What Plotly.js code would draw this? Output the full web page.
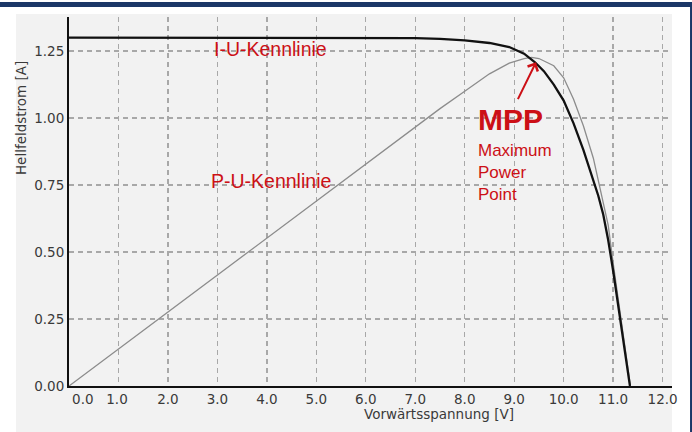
<!DOCTYPE html>
<html>
<head>
<meta charset="utf-8">
<script src="https://cdn.plot.ly/plotly-3.0.1.min.js"></script>
<style>
  html, body { margin: 0; padding: 0; background: #ffffff; }
  #chart { width: 692px; height: 432px; }
</style>
</head>
<body>
<div id="chart"></div>
<script>
// I-U characteristic (Kennlinie) – voltage [V] and current [A]
const iuVoltage = [0, 1, 2, 3, 4, 5, 6, 7, 7.5, 8, 8.5, 8.9, 9.2, 9.42, 9.6, 9.8, 10.0, 10.2, 10.4, 10.6, 10.7, 10.8, 10.9, 11.0, 11.1, 11.2, 11.3, 11.34];
const iuCurrent = [1.30, 1.30, 1.30, 1.30, 1.30, 1.30, 1.30, 1.298, 1.295, 1.29, 1.28, 1.265, 1.24, 1.208, 1.175, 1.125, 1.065, 0.98, 0.88, 0.77, 0.71, 0.64, 0.545, 0.43, 0.305, 0.18, 0.055, 0.0];

// P-U characteristic (scaled power, plotted on the same axis)
const puVoltage = [0, 1, 2, 3, 4, 5, 6, 7, 7.5, 8, 8.5, 8.9, 9.2, 9.35, 9.5, 9.8, 10.0, 10.2, 10.4, 10.6, 10.8, 10.9, 11.0, 11.1, 11.2, 11.3, 11.35];
const puPower   = [0, 0.138, 0.276, 0.414, 0.552, 0.69, 0.828, 0.966, 1.035, 1.10, 1.165, 1.205, 1.222, 1.226, 1.222, 1.195, 1.15, 1.07, 0.97, 0.85, 0.69, 0.60, 0.46, 0.33, 0.19, 0.06, 0.0];

// Maximum power point
const mppVoltage = 9.44;
const mppCurrent = 1.208;

// Tick labels
const xTickValues = [0, 1, 2, 3, 4, 5, 6, 7, 8, 9, 10, 11, 12];
const xTickLabels = ["0.0", "1.0", "2.0", "3.0", "4.0", "5.0", "6.0", "7.0", "8.0", "9.0", "10.0", "11.0", "12.0"];
const xTickLabelPos = [0.28, 0.97, 2, 3, 4, 5, 6, 7, 8, 9, 10, 11, 12];
const yTickValues = [0, 0.25, 0.5, 0.75, 1.0, 1.25];
const yTickLabels = ["0.00", "0.25", "0.50", "0.75", "1.00", "1.25"];

const red = '#cc1016';
const navy = '#1b3767';
const tickFont = { family: 'DejaVu Sans, Verdana, sans-serif', size: 13.5, color: '#3a3a3a' };

const traces = [
  {
    x: puVoltage, y: puPower, type: 'scatter', mode: 'lines', xaxis: 'x', yaxis: 'y',
    line: { color: '#8c8c8c', width: 1.3 },
    hoverinfo: 'skip', showlegend: false
  },
  {
    x: iuVoltage, y: iuCurrent, type: 'scatter', mode: 'lines', xaxis: 'x2', yaxis: 'y',
    line: { color: '#111111', width: 2.3 },
    hoverinfo: 'skip', showlegend: false
  }
];

const layout = {
  width: 692, height: 432,
  margin: { l: 69, r: 20, t: 17, b: 46, pad: 0 },
  paper_bgcolor: '#ffffff',
  plot_bgcolor: 'rgba(0,0,0,0)',
  showlegend: false,
  xaxis: {
    range: [0, 12.19], fixedrange: true,
    tickvals: xTickValues, showticklabels: false, ticks: '',
    showgrid: true, gridcolor: '#a8a8a8', gridwidth: 1.3, griddash: '5px,4px',
    zeroline: false, showline: true, linecolor: '#111111', linewidth: 2
  },
  xaxis2: {
    range: [0, 12.19], fixedrange: true, overlaying: 'x', anchor: 'y', side: 'bottom',
    tickvals: xTickLabelPos, ticktext: xTickLabels, ticks: '', ticklabelstandoff: 3,
    tickfont: tickFont, showgrid: false, zeroline: false, showline: false
  },
  yaxis: {
    range: [0, 1.377], fixedrange: true,
    tickvals: yTickValues, ticktext: yTickLabels, ticks: '',
    tickfont: tickFont,
    showgrid: true, gridcolor: '#a8a8a8', gridwidth: 1.3, griddash: '5px,4px',
    zeroline: false, showline: true, linecolor: '#111111', linewidth: 2
  },
  shapes: [
    // scanned grey area
    { type: 'rect', xref: 'paper', yref: 'paper', x0: -0.0879, x1: 1.0, y0: -0.13, y1: 1.0081,
      fillcolor: '#f2f2f2', line: { width: 0 }, layer: 'below' },
    // navy top band
    { type: 'rect', xref: 'paper', yref: 'paper', x0: -0.12, x1: 1.04, y0: 1.0271, y1: 1.0407,
      fillcolor: navy, line: { width: 0 }, layer: 'above' },
    // navy right border line
    { type: 'rect', xref: 'paper', yref: 'paper', x0: 1.0299, x1: 1.04, y0: -0.13, y1: 1.0407,
      fillcolor: navy, line: { width: 0 }, layer: 'above' }
  ],
  annotations: [
    { x: 4.07, y: 1.258, xref: 'x', yref: 'y', text: 'I-U-Kennlinie', showarrow: false,
      font: { family: 'Liberation Sans, Arial, sans-serif', size: 19.5, color: red } },
    { x: 4.09, y: 0.765, xref: 'x', yref: 'y', text: 'P-U-Kennlinie', showarrow: false,
      font: { family: 'Liberation Sans, Arial, sans-serif', size: 19.5, color: red } },
    { x: 8.23, y: 0.995, xref: 'x', yref: 'y', xanchor: 'left', text: '<b>MPP</b>', showarrow: false,
      font: { family: 'Liberation Sans, Arial, sans-serif', size: 30, color: red } },
    { x: 8.23, y: 0.797, xref: 'x', yref: 'y', xanchor: 'left', yanchor: 'middle', align: 'left',
      text: 'Maximum<br>Power<br>Point', showarrow: false,
      font: { family: 'Liberation Sans, Arial, sans-serif', size: 17, color: red } },
    { x: mppVoltage, y: mppCurrent, xref: 'x', yref: 'y', axref: 'x', ayref: 'y',
      ax: 9.06, ay: 1.065, text: '', showarrow: true, arrowhead: 4, arrowsize: 1.1,
      arrowwidth: 2, arrowcolor: red, standoff: 0 },
    { x: -0.0786, y: 0.725, xref: 'paper', yref: 'paper', xanchor: 'center', yanchor: 'middle',
      text: 'Hellfeldstrom [A]', textangle: -90,
      showarrow: false, font: { family: 'DejaVu Sans, Verdana, sans-serif', size: 13.5, color: '#3a3a3a' } },
    { x: 0.6136, y: -0.075, xref: 'paper', yref: 'paper', xanchor: 'center', yanchor: 'middle',
      text: 'Vorwärtsspannung [V]',
      showarrow: false, font: { family: 'DejaVu Sans, Verdana, sans-serif', size: 13.5, color: '#3a3a3a' } }
  ]
};

Plotly.newPlot('chart', traces, layout, { displayModeBar: false, staticPlot: true });
</script>
</body>
</html>
